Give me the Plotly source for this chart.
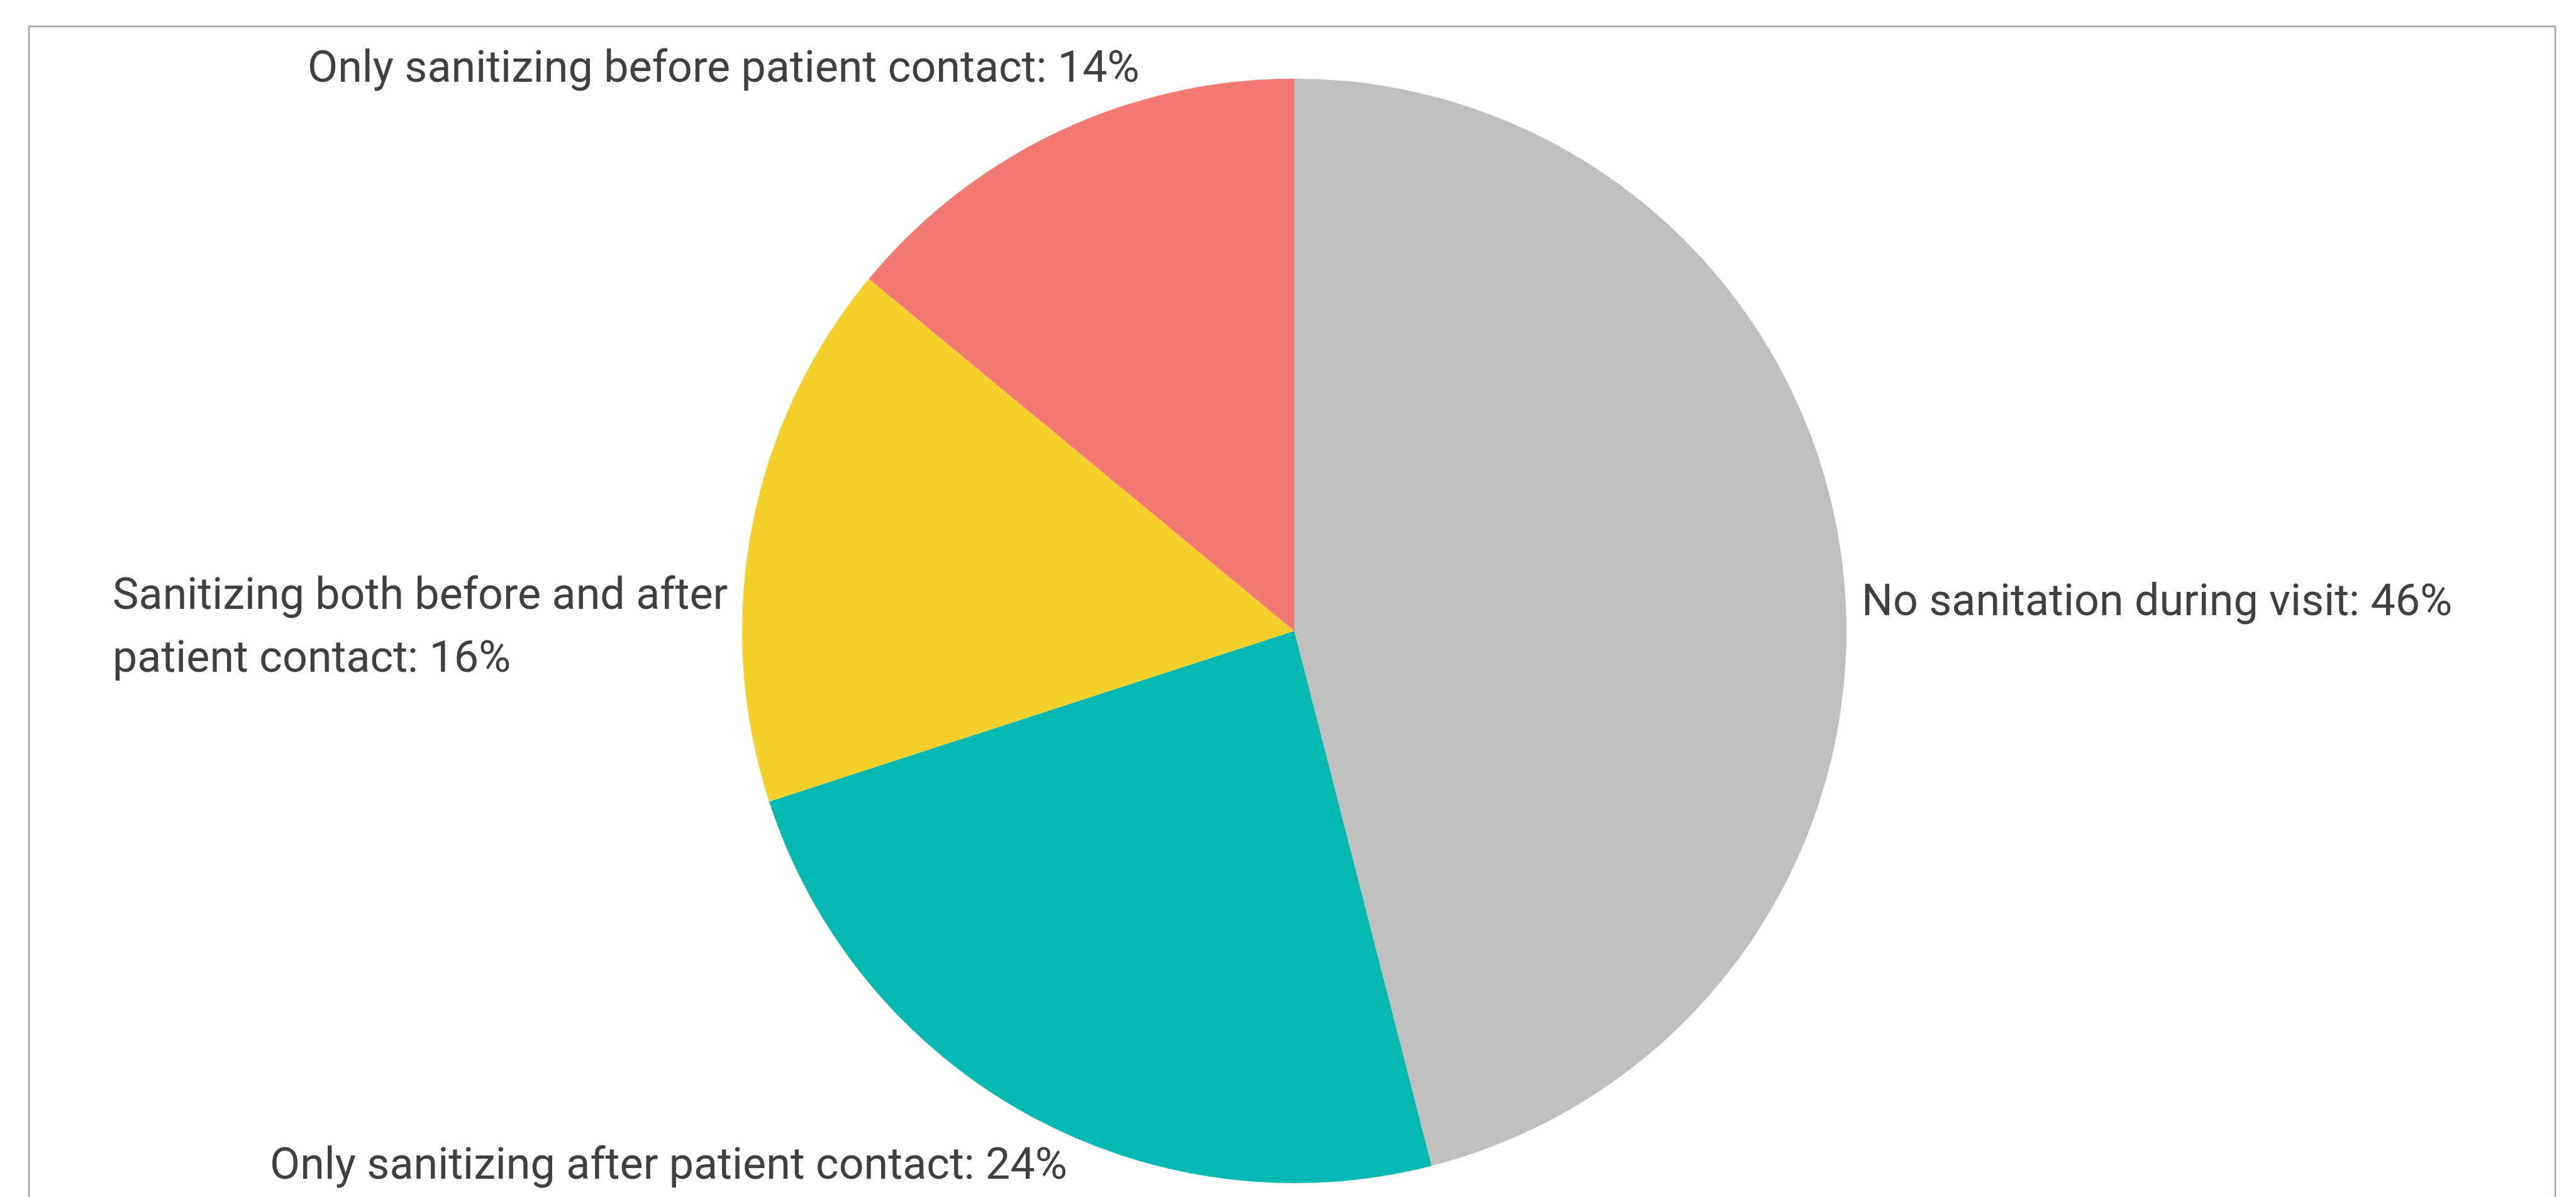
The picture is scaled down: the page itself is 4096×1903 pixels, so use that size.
import plotly.graph_objects as go

# Share of observed visits by hand-sanitizing behaviour
categories = [
    "No sanitation during visit",
    "Only sanitizing after patient contact",
    "Sanitizing both before and after patient contact",
    "Only sanitizing before patient contact",
]
shares = [46, 24, 16, 14]
slice_colors = ["#BFBFBF", "#05B9B2", "#F5D02B", "#F27A73"]
# how each category name wraps in its callout
wrapped_names = [
    "No sanitation during visit",
    "Only sanitizing after patient contact",
    "Sanitizing both before and after<br>patient contact",
    "Only sanitizing before patient contact",
]

W, H = 4096, 1903
FONT = "Roboto, Open Sans, sans-serif"
TEXT_COLOR = "#404040"
FONT_SIZE = 70
LINE_GAP = 100  # px between wrapped callout lines

# pie geometry in pixels (from top-left)
cx, cy, r = 2058, 1003, 878


def px(x):
    return x / W


def py(y):
    return 1 - y / H


fig = go.Figure(
    go.Pie(
        labels=categories,
        values=shares,
        sort=False,
        direction="clockwise",
        rotation=0,
        marker=dict(colors=slice_colors, line=dict(width=0)),
        textinfo="none",
        hoverinfo="label+percent",
        showlegend=False,
        domain=dict(x=[px(cx - r), px(cx + r)], y=[py(cy + r), py(cy - r)]),
    )
)

# callout placement per slice: (x px, y px of first line's middle, xanchor)
callouts = [
    (2958, 954, "left"),
    (427, 1850, "left"),
    (177, 944, "left"),
    (1814, 106, "right"),
]

for name, val, (x, y, anchor) in zip(wrapped_names, shares, callouts):
    lines = f"{name}: {val}%".split("<br>")
    for i, line in enumerate(lines):
        fig.add_annotation(
            x=px(x), y=py(y + i * LINE_GAP), xref="paper", yref="paper",
            text=line,
            showarrow=False, xanchor=anchor, yanchor="middle", align="left",
            font=dict(family=FONT, size=FONT_SIZE, color=TEXT_COLOR),
        )

# chart frame
fig.add_shape(
    type="rect", xref="paper", yref="paper",
    x0=px(46), x1=px(4063), y0=py(1960), y1=py(42),
    line=dict(color="#A0A0A0", width=2.5), fillcolor="rgba(0,0,0,0)",
    layer="below",
)

fig.update_layout(
    width=W, height=H,
    margin=dict(l=0, r=0, t=0, b=0),
    paper_bgcolor="white", plot_bgcolor="white",
)

fig.write_html("out.html")
